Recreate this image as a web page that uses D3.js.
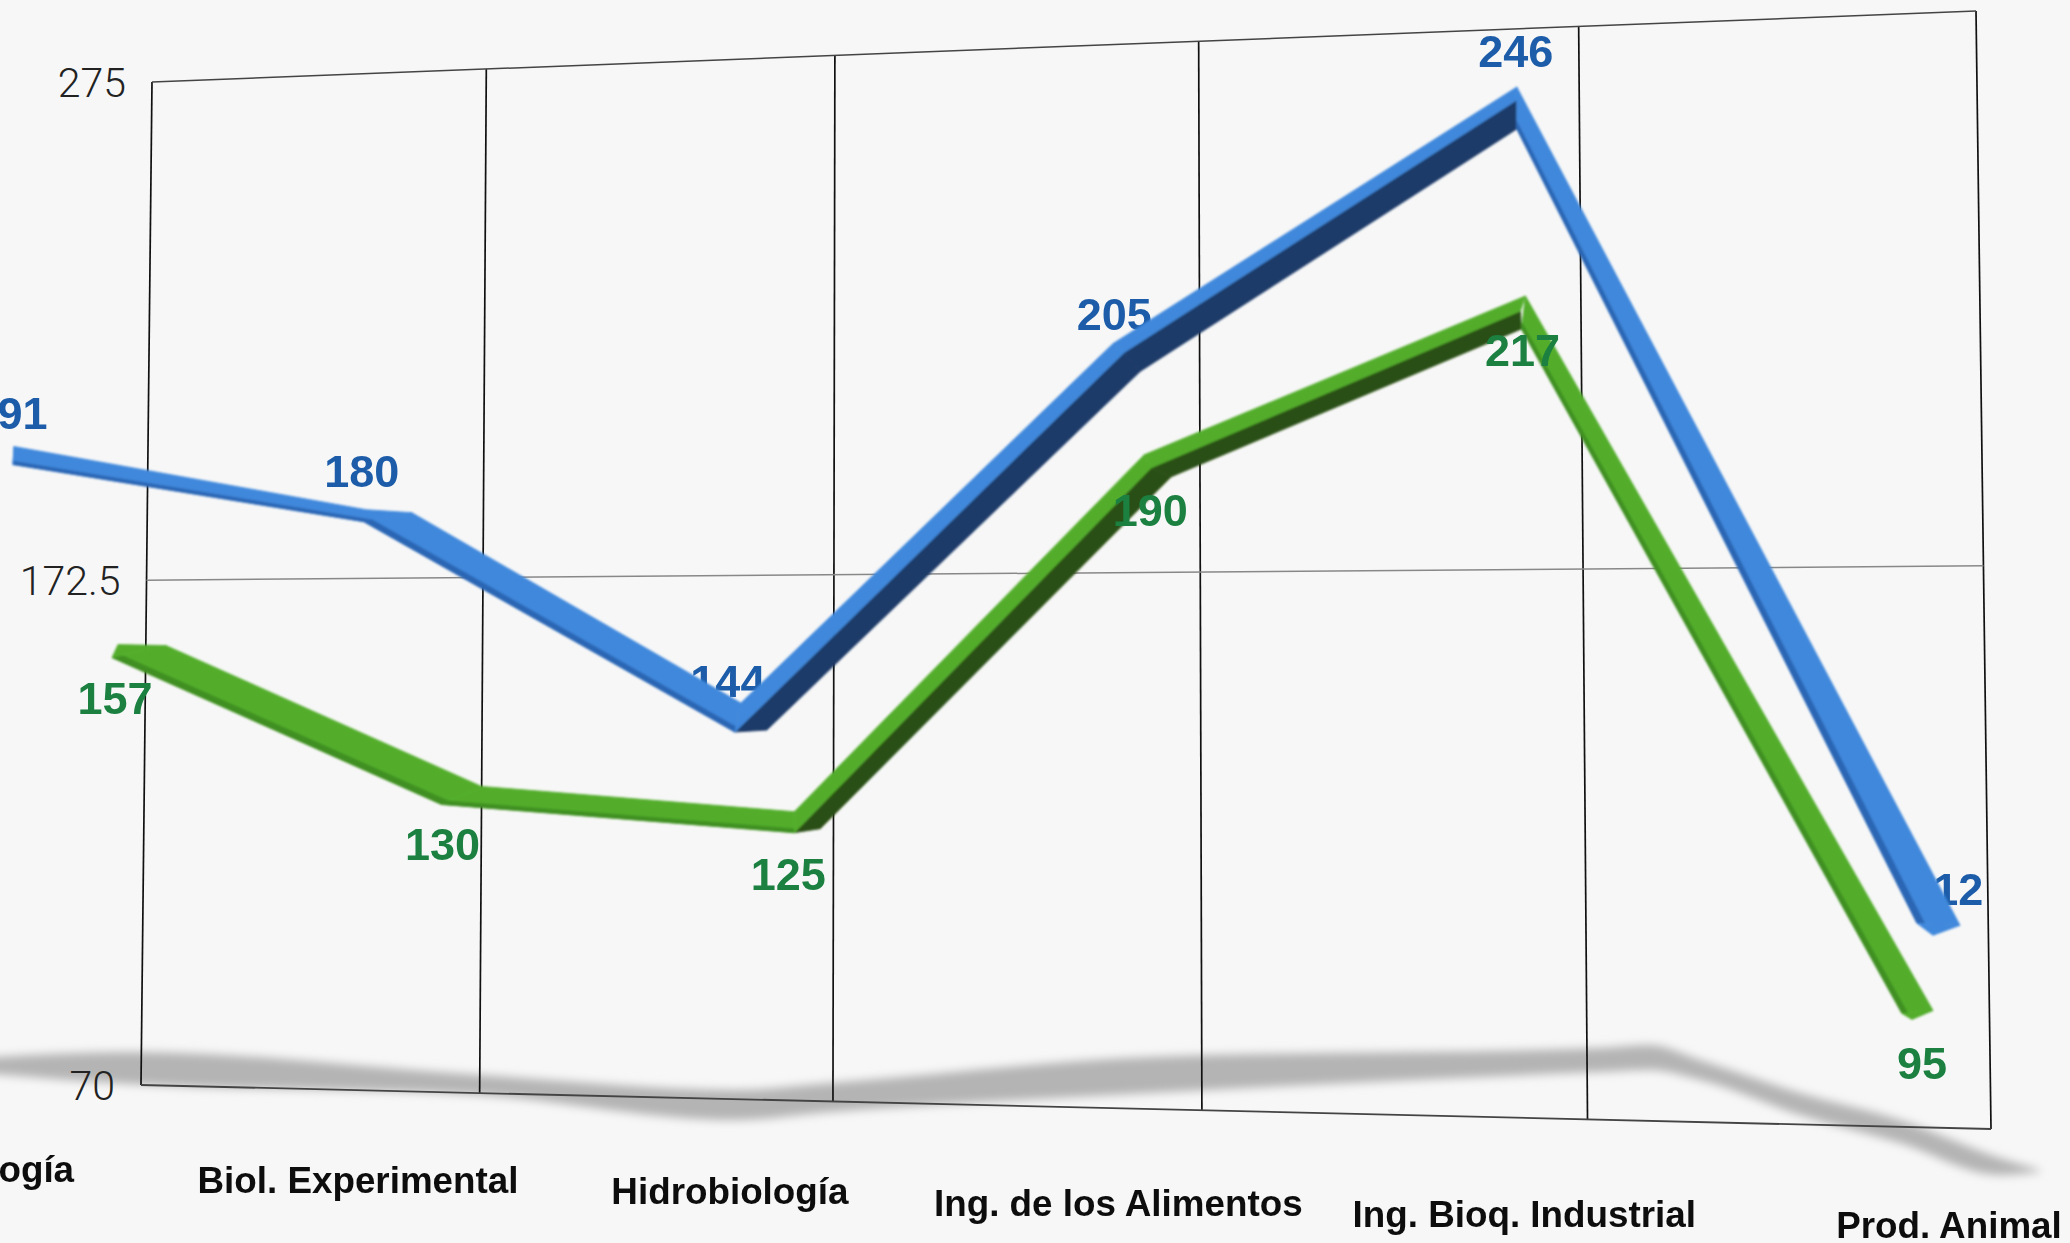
<!DOCTYPE html>
<html><head><meta charset="utf-8">
<script src="https://cdn.jsdelivr.net/npm/d3@7"></script>
<style>html,body{margin:0;padding:0;background:#f7f7f7;overflow:hidden}svg{display:block}</style>
</head><body><svg id="c" width="2070" height="1243"></svg>
<script>
// ---- data ----
const categories = ["Biología","Biol. Experimental","Hidrobiología","Ing. de los Alimentos","Ing. Bioq. Industrial","Prod. Animal"];
const blueValues = [191,180,144,205,246,112];
const greenValues = [157,130,125,190,217,95];
const axisTicks = [70,172.5,275];

// ---- styling geometry (offsets from each scaled point: lower, middle, upper ribbon edge) ----
const blueEdges = [
 [[0,5],[1,-13],[1,-13]], [[-1,-4],[1,-16],[47,-13]], [[35,-12],[3,-10],[9,-39]],
 [[25,-4],[9,-23],[-2,-32]], [[1,0],[1,-29],[1,-42]], [[-2,1],[-18,-11],[25,-9]]];
const greenEdges = [
 [[0,-11],[6,-24],[54,-23]], [[0,-17],[0,-17],[40,-35]], [[35,-21],[9,-17],[9,-38]],
 [[27,-5],[7,-14],[0,-27]], [[2,0],[1,-18],[6,-33]], [[0,0],[-10,-6],[21,-9]]];
const blueLabelOffsets = [[-3,-47],[-3,-55],[-4,-61],[-1,-62],[0,-78],[12,-46]];
const greenLabelOffsets = [[3,29],[1,22],[3,24],[6,28],[3,21],[10,43]];
// floor shadow: screen x with upper and lower y of the soft band
const shadowX = [-20,130,480,735,830,1150,1600,1650,1700,1800,1900,2000,2040];
const shadowTop = [1058,1052,1075,1090,1083,1057,1048,1045,1060,1093,1120,1158,1170];
const shadowBottom = [1073,1084,1095,1120,1112,1093,1072,1070,1080,1115,1143,1175,1172];

// ---- perspective plane ----
const corners = {tl:[152,82],tr:[1976,11],br:[1991,1129],bl:[141,1085]};
function makeHomography(c){
  const [x0,y0]=c.tl,[x1,y1]=c.tr,[x2,y2]=c.br,[x3,y3]=c.bl;
  const dx1=x1-x2,dx2=x3-x2,sx=x0-x1+x2-x3,dy1=y1-y2,dy2=y3-y2,sy=y0-y1+y2-y3;
  const den=dx1*dy2-dx2*dy1;
  const g=(sx*dy2-dx2*sy)/den,h=(dx1*sy-sx*dy1)/den;
  const a=x1-x0+g*x1,b=x3-x0+h*x3,d=y1-y0+g*y1,e=y3-y0+h*y3;
  return (u,v)=>{const w=g*u+h*v+1;return [(a*u+b*v+x0)/w,(d*u+e*v+y0)/w];};
}
const H = makeHomography(corners);
const u = d3.scalePoint().domain(categories).range([0,1]);
const v = d3.scaleLinear().domain([70,275]).range([1,0]);
const floorX = c => H(u(c),1)[0];
const fx0 = H(0,1)[0], fx1 = H(1,1)[0];

const green = {values:greenValues,edges:greenEdges,labels:greenLabelOffsets,
  x:d3.scaleLinear().domain([fx0,fx1]).range([112,1912]),
  y:d3.scaleLinear().domain([70,275]).range([1161,0.7]),
  top:"#52ad2c",edge:"#3f8f22",dark:"#2a4f14",text:"#1a8040"};
const blue = {values:blueValues,edges:blueEdges,labels:blueLabelOffsets,
  x:d3.scaleLinear().domain([fx0,fx1]).range([13,1935]),
  y:d3.scaleLinear().domain([70,275]).range([1186.8,-45.3]),
  top:"#3f88dc",edge:"#2c66b4",dark:"#1c3a68",text:"#1c5ca8"};
const series = [green,blue];

const svg = d3.select("#c");
const defs = svg.append("defs");
defs.append("filter").attr("id","shadowBlur").attr("x","-5%").attr("y","-50%").attr("width","110%").attr("height","200%")
  .append("feGaussianBlur").attr("stdDeviation",5);
defs.append("filter").attr("id","soft").append("feGaussianBlur").attr("stdDeviation",0.8);
defs.append("filter").attr("id","softText").append("feGaussianBlur").attr("stdDeviation",0.45);

svg.append("rect").attr("width",2070).attr("height",1243).attr("fill","#f7f7f7");

// shadow
const shadowArea = d3.area().x(d=>d[0]).y0(d=>d[1]).y1(d=>d[2]).curve(d3.curveMonotoneX);
svg.append("path").datum(shadowX.map((x,i)=>[x,shadowTop[i],shadowBottom[i]]))
  .attr("d",shadowArea).attr("fill","#b4b4b4").attr("filter","url(#shadowBlur)");

// grid
const line = d3.line();
const grid = svg.append("g").attr("fill","none");
categories.forEach(c=>{
  grid.append("path").attr("d",line([H(u(c),0),H(u(c),1)])).attr("stroke","#111").attr("stroke-width",1.7);
});
axisTicks.forEach(t=>{
  grid.append("path").attr("d",line([H(0,v(t)),H(1,v(t))]))
    .attr("stroke",t===172.5?"#888":"#444").attr("stroke-width",t===70?1.8:1.5);
});

// y-axis labels
svg.append("g").selectAll("text").data(axisTicks).join("text")
  .attr("x",d=>H(0,v(d))[0]-26).attr("y",d=>H(0,v(d))[1]).attr("dy",".36em")
  .attr("text-anchor","end").attr("font-family","Roboto").attr("font-weight",300)
  .attr("font-size",41).attr("fill","#222").text(d=>d);

// category labels
const labelX = d3.scaleLinear().domain([floorX(categories[1]),floorX(categories[5])]).range([358,1949]);
const labelY = d3.scaleLinear().domain([1,5]).range([1180,1225]);
svg.append("g").selectAll("text").data(categories).join("text")
  .attr("x",d=>labelX(floorX(d))).attr("y",(d,i)=>labelY(i)).attr("dy",".36em")
  .attr("text-anchor","middle").attr("font-family","Liberation Sans").attr("font-weight",700)
  .attr("font-size",36.8).attr("fill","#111").attr("filter","url(#softText)").text(d=>d);

series.forEach(s=>{
  s.anchors = s.values.map((val,i)=>[s.x(floorX(categories[i])),s.y(val)]);
});

function drawLabels(s){
  svg.append("g").selectAll("text").data(s.values).join("text")
    .attr("x",(d,i)=>s.anchors[i][0]+s.labels[i][0]).attr("y",(d,i)=>s.anchors[i][1]+s.labels[i][1])
    .attr("dy",".36em").attr("text-anchor","middle").attr("font-family","Liberation Sans").attr("font-weight",700)
    .attr("font-size",45).attr("fill",s.text).attr("filter","url(#softText)").text(d=>d);
}

// blue labels sit behind the ribbon, green labels in front of it
drawLabels(blue);

// ribbons
const poly = pts => "M"+pts.map(p=>p.join(",")).join("L")+"Z";
series.forEach(s=>{
  const g = svg.append("g").attr("filter","url(#soft)").attr("stroke-linejoin","round");
  const e = s.values.map((val,i)=>s.edges[i].map(o=>[s.anchors[i][0]+o[0],s.anchors[i][1]+o[1]]));
  const face=(pts,col)=>g.append("path").attr("d",poly(pts)).attr("fill",col).attr("stroke",col).attr("stroke-width",0.8);
  const n = s.values.length;
  s.values.forEach((val,i)=>{
    if(i===n-1) return;
    const [a0,b0,c0]=e[i],[a1,b1,c1]=e[i+1];
    if(s.values[i+1]>val){
      face([a0,b0,b1,a1],s.dark);
      face([b0,c0,c1,b1],s.top);
    } else {
      const continues = i+2<n && s.values[i+2]<s.values[i+1];
      const left1 = continues ? a1 : b1;
      const shoulder = continues && (a1[0]!==b1[0]||a1[1]!==b1[1]);
      face(shoulder?[a0,c0,b1,c1,left1]:[a0,c0,c1,left1],s.top);
      const mix=d3.interpolate;
      face([a0,mix(a0,c0)(0.18),mix(left1,c1)(0.18),left1],s.edge);
    }
  });
  face(e[0],s.top);
  face(e[n-1],s.top);
});

drawLabels(green);
</script></body></html>
